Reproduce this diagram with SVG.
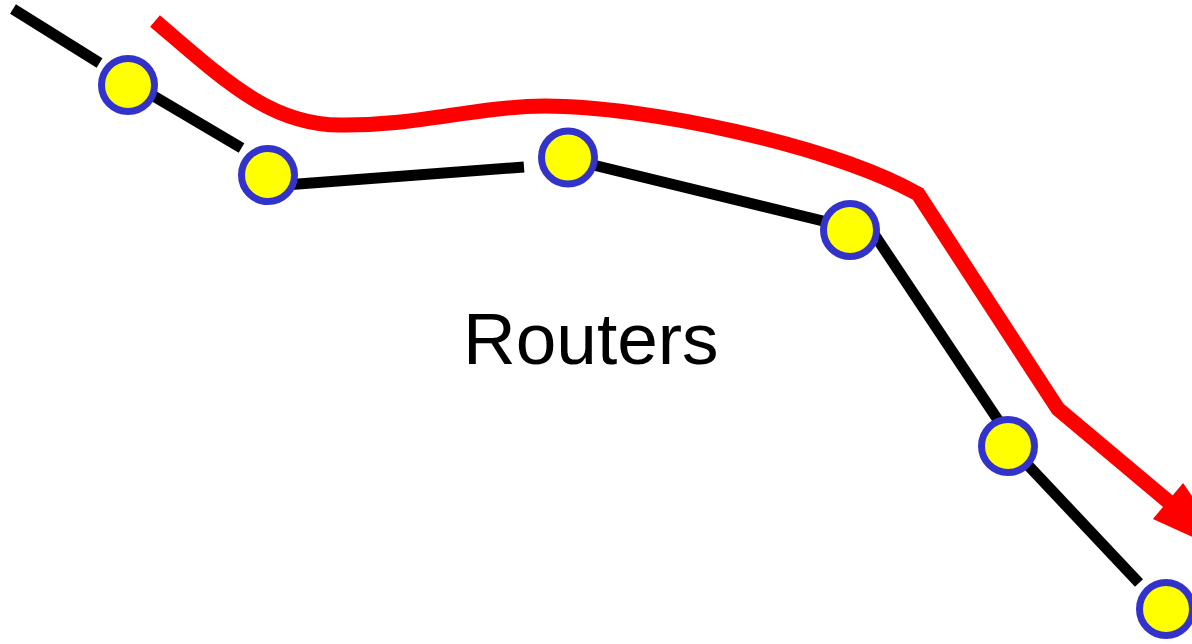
<svg xmlns="http://www.w3.org/2000/svg" width="1192" height="644" viewBox="0 0 1192 644">
  <style>
    .link { stroke: #000000; stroke-width: 11; fill: none; stroke-linecap: butt; }
    .route { stroke: #FF0000; stroke-width: 15; fill: none; stroke-linejoin: miter; stroke-linecap: butt; }
    .router { fill: #FFFF00; stroke: #3333CC; stroke-width: 7; }
    .label { font-family: "Liberation Sans", Arial, sans-serif; font-size: 73px; fill: #000000; }
  </style>

  <rect width="1192" height="644" fill="#FFFFFF"/>

  <!-- path taken through the routers -->
  <g id="route">
    <path class="route" d="M155,21 C223,79 270,125 340,125 C420,126 470,107 545,106 C645,106 830,145 918,194 L1058,409 L1170,503"/>
    <polygon fill="#FF0000" points="1152.9,518.9 1183.1,483.1 1232,555"/>
  </g>

  <!-- links between routers -->
  <g id="connectors">
    <line class="link" x1="13" y1="9" x2="99.5" y2="63"/>
    <line class="link" x1="140" y1="88" x2="241.5" y2="148"/>
    <line class="link" x1="285" y1="185" x2="524" y2="167"/>
    <line class="link" x1="585" y1="163" x2="823" y2="221"/>
    <line class="link" x1="868" y1="225" x2="998" y2="420"/>
    <line class="link" x1="1025" y1="462" x2="1139" y2="583"/>
  </g>

  <g id="router1"><circle class="router" cx="128" cy="85" r="26.5"/></g>
  <g id="router2"><circle class="router" cx="268" cy="175" r="26.5"/></g>
  <g id="router3"><circle class="router" cx="568" cy="157.5" r="26.5"/></g>
  <g id="router4"><circle class="router" cx="850" cy="230" r="26.5"/></g>
  <g id="router5"><circle class="router" cx="1008" cy="446" r="26.5"/></g>
  <g id="router6"><circle class="router" cx="1166" cy="609" r="26.5"/></g>

  <g id="caption">
    <text class="label" x="463" y="363.5">Routers</text>
  </g>
</svg>
